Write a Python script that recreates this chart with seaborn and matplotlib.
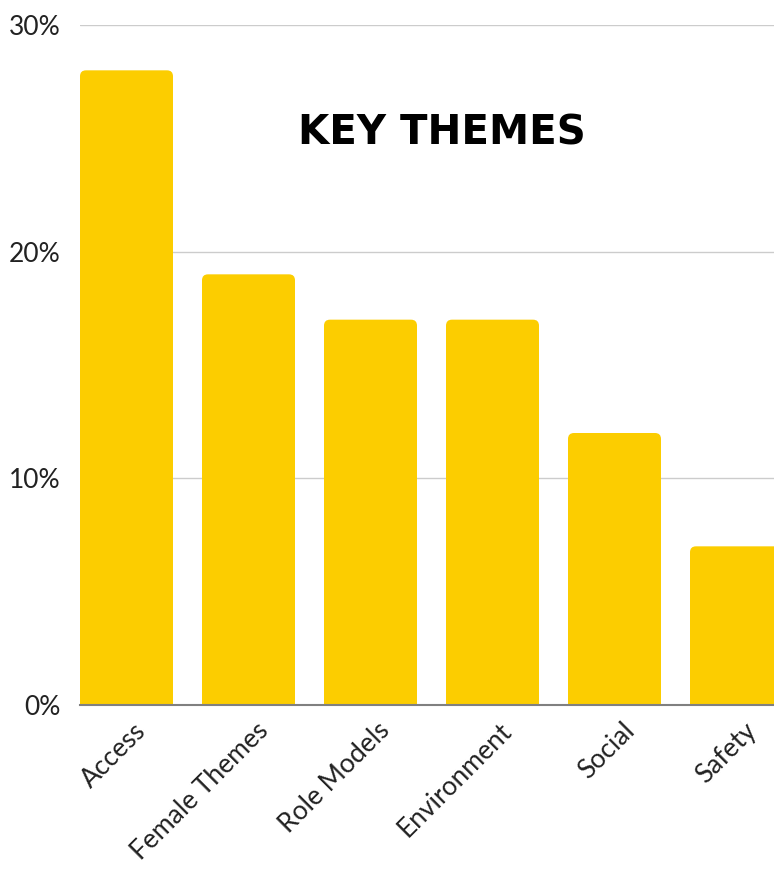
import matplotlib
matplotlib.use("Agg")
import matplotlib.pyplot as plt
import matplotlib.transforms as mtransforms
import seaborn as sns
import pandas as pd
from matplotlib.patches import FancyBboxPatch
from matplotlib.ticker import FuncFormatter

categories = ["Access", "Female Themes", "Role Models", "Environment", "Social", "Safety"]
values = [28, 19, 17, 17, 12, 7]
title = "KEY THEMES"

sns.set_theme(style="white")
plt.rcParams['font.family'] = ['Lato', 'DejaVu Sans']

df = pd.DataFrame({"theme": categories, "pct": values})

fig = plt.figure(figsize=(7.74, 8.76), dpi=100)
ax = fig.add_axes([80/774, 171/876, 1 - 80/774, (705-25)/876])

color = "#FCCD00"
bw = 93/122
sns.barplot(data=df, x="theme", y="pct", color=color, width=bw, ax=ax, saturation=1, zorder=3)

ax.set_ylim(0, 30)
ax.set_xlim(-bw/2, 5 + (774 - 736.5)/122)

# replace bars with rounded-top patches
x_px_per_unit = 122.0
y_px_per_unit = (705 - 25) / 30.0
r_px = 6.0
rx = r_px / x_px_per_unit
aspect = (r_px / y_px_per_unit) / rx
for p in list(ax.patches):
    x0, w, h = p.get_x(), p.get_width(), p.get_height()
    p.remove()
    extra = r_px / y_px_per_unit * 1.5
    fb = FancyBboxPatch((x0, -extra), w, h + extra,
                        boxstyle=f"round,pad=0,rounding_size={rx}",
                        mutation_aspect=aspect, facecolor=color, edgecolor="none",
                        zorder=3, clip_on=True)
    ax.add_patch(fb)

ax.set_yticks([0, 10, 20, 30])
ax.yaxis.set_major_formatter(FuncFormatter(lambda v, _: f"{int(v)}%"))
ax.grid(axis="y", color="#cccccc", linewidth=1, zorder=0)
ax.grid(axis="x", visible=False)
for s in ["top", "right", "left"]:
    ax.spines[s].set_visible(False)
ax.spines["bottom"].set_color("#808080")
ax.spines["bottom"].set_linewidth(1.5)
ax.spines["bottom"].set_zorder(4)
ax.set_xlabel("")
ax.set_ylabel("")
ax.tick_params(axis="both", length=0, labelsize=19, labelcolor="#222222")
ax.tick_params(axis="y", pad=14)
ax.tick_params(axis="x", pad=0)
for lbl in ax.get_yticklabels():
    lbl.set_va("center_baseline")
offset = mtransforms.ScaledTranslation(7/100, -13/100, fig.dpi_scale_trans)
for lbl in ax.get_xticklabels():
    lbl.set_rotation(45)
    lbl.set_ha("right")
    lbl.set_va("top")
    lbl.set_rotation_mode("anchor")
    lbl.set_transform(lbl.get_transform() + offset)

ax.text(0.522, 0.84, title, transform=ax.transAxes, ha="center", va="center",
        fontsize=29, fontweight="bold", color="#000000", family="DejaVu Sans")

fig.savefig("out.png", dpi=100)
